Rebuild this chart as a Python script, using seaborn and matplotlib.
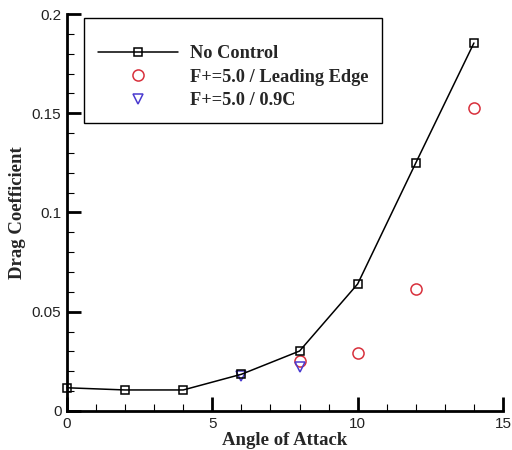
import matplotlib
matplotlib.use("Agg")
import matplotlib.pyplot as plt
import seaborn as sns
import pandas as pd
from matplotlib.ticker import MultipleLocator

angle_nc = [0, 2, 4, 6, 8, 10, 12, 14]
cd_nc = [0.0117, 0.0106, 0.0106, 0.0185, 0.0302, 0.064, 0.125, 0.1854]
angle_le = [8, 10, 12, 14]
cd_le = [0.0252, 0.029, 0.0615, 0.1526]
angle_09 = [6, 8]
cd_09 = [0.0176, 0.0223]

labels = ["No Control", "F+=5.0 / Leading Edge", "F+=5.0 / 0.9C"]

sns.set_theme(style="ticks")
plt.rcParams['font.family'] = ['Liberation Sans', 'DejaVu Sans']

fig = plt.figure(figsize=(5.12, 4.5), dpi=100)
ax = fig.add_axes([67/512, 1-411/450, (503-67)/512, (411-14)/450])

df_nc = pd.DataFrame({"a": angle_nc, "cd": cd_nc})
df_le = pd.DataFrame({"a": angle_le, "cd": cd_le})
df_09 = pd.DataFrame({"a": angle_09, "cd": cd_09})

sns.lineplot(data=df_nc, x="a", y="cd", ax=ax, color="black", lw=1.1,
             marker="s", ms=6, mfc="none", mec="black", mew=1.1,
             label=labels[0], clip_on=False, zorder=5)
sns.lineplot(data=df_le, x="a", y="cd", ax=ax, color="#d8303c", linestyle="",
             marker="o", ms=8, mfc="none", mec="#d8303c", mew=1.1,
             label=labels[1], clip_on=False, zorder=4)
sns.lineplot(data=df_09, x="a", y="cd", ax=ax, color="#4a3ad0", linestyle="",
             marker="v", ms=6.5, mfc="none", mec="#4a3ad0", mew=1.1,
             label=labels[2], clip_on=False, zorder=4)

ax.set_xlim(0, 15)
ax.set_ylim(0, 0.2)
ax.xaxis.set_major_locator(MultipleLocator(5))
ax.xaxis.set_minor_locator(MultipleLocator(1))
ax.yaxis.set_major_locator(MultipleLocator(0.05))
ax.yaxis.set_minor_locator(MultipleLocator(0.01))
ax.yaxis.set_major_formatter(matplotlib.ticker.FuncFormatter(
    lambda v, p: "0" if abs(v) < 1e-9 else ("%g" % round(v, 3))))

for s in ["top", "right"]:
    ax.spines[s].set_visible(False)
for s in ["left", "bottom"]:
    ax.spines[s].set_linewidth(2)
    ax.spines[s].set_color("black")

ax.tick_params(which="major", direction="in", length=10, width=2,
               labelsize=11, colors="black", pad=4)
ax.tick_params(which="minor", direction="in", length=5, width=0.8, colors="black")
for t in ax.get_xticklabels() + ax.get_yticklabels():
    t.set_color("#222222")

ax.set_xlabel("Angle of Attack", family=["Liberation Serif"], fontweight="bold",
              fontsize=13.5, labelpad=1)
ax.set_ylabel("Drag Coefficient", family=["Liberation Serif"], fontweight="bold",
              fontsize=13.5, labelpad=4)

leg = ax.legend(loc="upper left", bbox_to_anchor=(0.039, 0.99), borderaxespad=0,
                frameon=True, fancybox=False, framealpha=1, edgecolor="black",
                prop={"family": "Liberation Serif", "weight": "bold", "size": 13.2},
                handlelength=4.4, handletextpad=0.64, labelspacing=0.35,
                borderpad=0.75, title=" ", title_fontsize=5)
leg.get_frame().set_linewidth(1)

fig.savefig("out.png", dpi=100, facecolor="white")
